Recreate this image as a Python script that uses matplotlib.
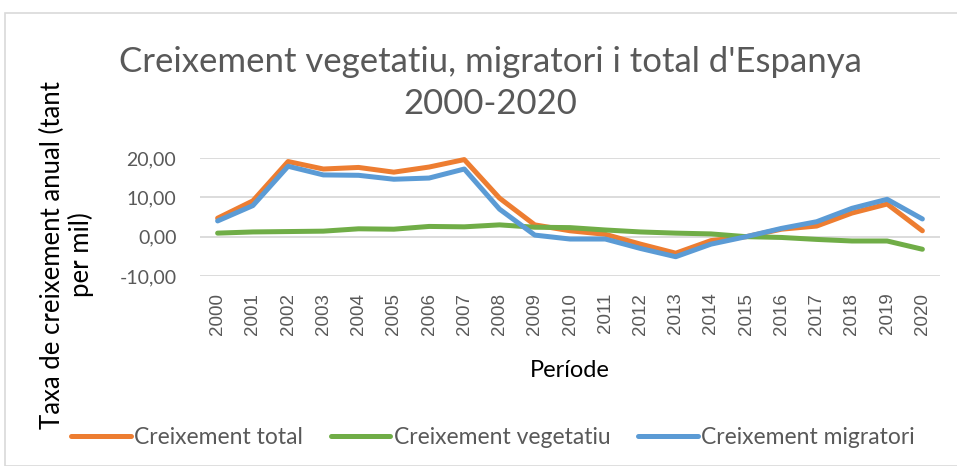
import numpy as np
import matplotlib.pyplot as plt
from matplotlib.patches import Rectangle

# Dades (taxa per mil)
anys = [str(a) for a in range(2000, 2021)]
creix_total = [4.7, 9.1, 19.1, 17.2, 17.6, 16.4, 17.7, 19.6, 9.8, 3.0,
               1.5, 0.6, -1.9, -4.2, -1.0, 0.0, 1.9, 2.7, 6.0, 8.3, 1.5]
creix_vegetatiu = [0.9, 1.2, 1.3, 1.4, 2.0, 1.9, 2.6, 2.5, 3.0, 2.4,
                   2.3, 1.7, 1.2, 0.9, 0.7, 0.0, -0.2, -0.7, -1.1, -1.1, -3.2]
creix_migratori = [4.0, 7.9, 17.9, 15.7, 15.6, 14.6, 14.9, 17.2, 7.0, 0.4,
                   -0.6, -0.6, -3.0, -5.1, -1.9, 0.0, 2.1, 3.8, 7.2, 9.5, 4.5]
yticks = [-10, 0, 10, 20]

text_color = '#595959'
plt.rcParams['font.family'] = ['Lato', 'DejaVu Sans']

fig = plt.figure(figsize=(9.57, 4.66), dpi=100)
W, H = 957, 466
ax = fig.add_axes([200 / W, 1 - 276 / H, 740 / W, (276 - 158) / H])

# marc del gràfic
fig.patches.append(Rectangle((5 / W, 0), 1, 1 - 13 / H, transform=fig.transFigure,
                             fill=False, edgecolor='#D9D9D9', linewidth=1.2))

x = np.arange(len(anys))
ax.plot(x, creix_total, color='#ED7D31', linewidth=3.6, label='Creixement total',
        solid_capstyle='round', clip_on=False, zorder=3)
ax.plot(x, creix_vegetatiu, color='#70AD47', linewidth=3.6, label='Creixement vegetatiu',
        solid_capstyle='round', clip_on=False, zorder=3)
ax.plot(x, creix_migratori, color='#5B9BD5', linewidth=3.6, label='Creixement migratori',
        solid_capstyle='round', clip_on=False, zorder=3)

ax.set_xlim(-0.5, len(anys) - 0.5)
ax.set_ylim(-10, 20)
ax.set_yticks(yticks)
ax.set_yticklabels([f'{v:.2f}'.replace('.', ',') for v in yticks],
                   fontsize=14, color=text_color)
ax.set_xticks(x)
ax.set_xticklabels(anys, rotation=90, fontsize=13.5, color=text_color,
                   family=['Liberation Sans', 'DejaVu Sans'])
ax.tick_params(axis='y', length=0, pad=17)
ax.tick_params(axis='x', length=0, pad=12)
ax.grid(axis='y', color='#D9D9D9', linewidth=1.3)
for s in ax.spines.values():
    s.set_visible(False)
ax.set_axisbelow(True)

ax.set_xlabel('Període', fontsize=17, color='black', labelpad=18)
fig.text(67 / W, 1 - 255 / H, 'Taxa de creixement anual (tant\nper mil)', rotation=90,
         ha='center', va='center', fontsize=18.5, color='black', linespacing=1.1)

fig.text(490 / W, 1 - 83 / H, "Creixement vegetatiu, migratori i total d'Espanya\n2000-2020",
         ha='center', va='center', fontsize=25, color=text_color, linespacing=1.35)

fig.legend(loc='center', bbox_to_anchor=(493 / W, 1 - 438 / H), ncol=3, frameon=False,
           fontsize=16.5, labelcolor=text_color, handlelength=2.6, handletextpad=0.15,
           columnspacing=1.2)

fig.savefig('out.png', dpi=100)
